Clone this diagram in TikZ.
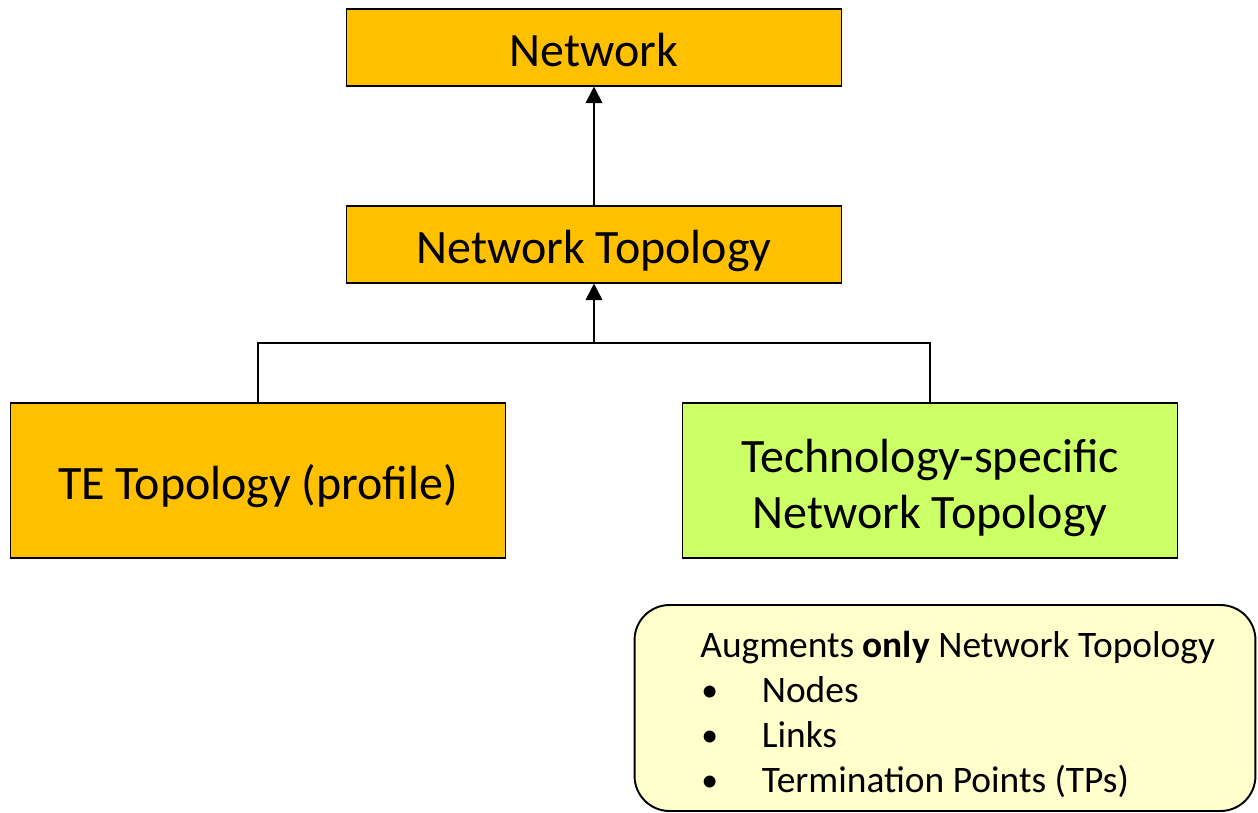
\documentclass[tikz,border=0pt]{standalone}
\usepackage{fontspec}
\setmainfont{Carlito}
\usetikzlibrary{arrows.meta}
\definecolor{boxorange}{HTML}{FFC000}
\definecolor{boxgreen}{HTML}{CCFF66}
\definecolor{noteyellow}{HTML}{FFFFCC}
\newcommand{\notebullet}{\hspace*{0.6pt}\makebox[34.4pt][l]{\raisebox{0.3pt}{\scalebox{0.9}{•}}}}
\begin{document}
\begin{tikzpicture}[x=0.02cm, y=-0.02cm,
    box/.style={draw, line width=0.6pt, minimum width=9.92cm, align=center, font=\fontsize{27.3}{32.3}\selectfont, text height=22pt, text depth=0pt},
    notebox/.style={draw, line width=1.1pt, rounded corners=0.7cm, fill=noteyellow, minimum width=12.42cm, minimum height=4.12cm},
    link/.style={line width=1.1pt},
    up/.style={link, -{Triangle[width=9.5pt, length=9.5pt]}}]
      \useasboundingbox (0,0) rectangle (1258,812);
      \node[box, fill=boxorange, minimum height=1.54cm] (net) at (594,47.5) {Network};
      \node[box, fill=boxorange, minimum height=1.54cm] (topo) at (594,244.5) {Network Topology};
      \node[box, fill=boxorange, minimum height=3.1cm] (te) at (258,480.5) {TE Topology (profile)};
      \node[box, fill=boxgreen, minimum height=3.1cm, text height=55pt] (tech) at (930,480.5) {Technology-specific\\Network Topology};
      \coordinate (j) at (594,343);
      \draw[up] (topo) -- (net);
      \draw[link] (te.north) |- (j) -| (tech.north);
      \draw[up] (j) -- (topo.south);

      \node[notebox] (note) at (945,708) {};
      \node[anchor=north west, inner sep=0pt, align=left, font=\fontsize{21.3}{25.5}\selectfont] (notetext) at (700,631) {%
        Augments \textbf{only} Network Topology\\
        \notebullet Nodes\\
        \notebullet Links\\
        \notebullet Termination Points (TPs)};
\end{tikzpicture}
\end{document}
